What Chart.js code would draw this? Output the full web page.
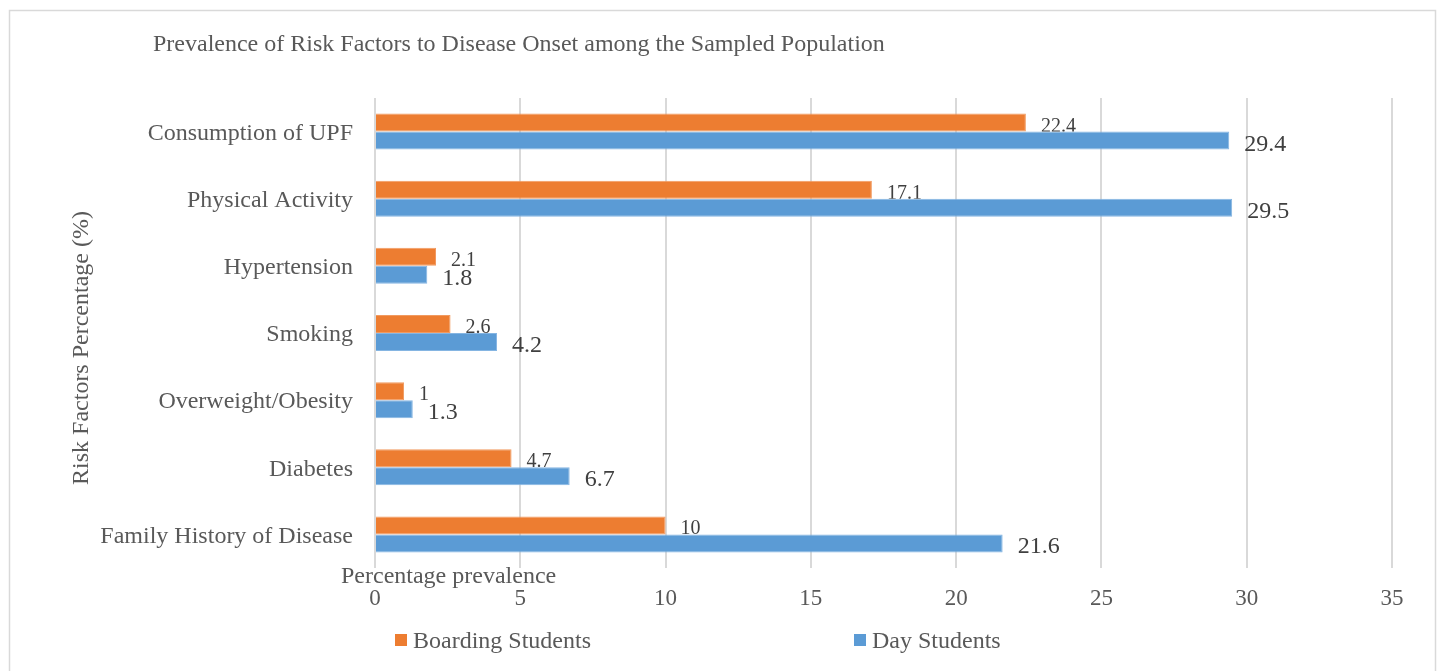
<!DOCTYPE html>
<html>
<head>
<meta charset="utf-8">
<title>Prevalence of Risk Factors</title>
<script src="https://cdn.jsdelivr.net/npm/chart.js@4.4.1/dist/chart.umd.min.js"></script>
<style>
  html, body { margin: 0; padding: 0; background: #fff; }
  #wrap { position: relative; width: 1441px; height: 671px; }
</style>
</head>
<body>
<div id="wrap"><canvas id="chart" width="1441" height="671"></canvas></div>
<script>
// Risk factor survey - boarding vs day students

var categories = ['Consumption of UPF', 'Physical Activity', 'Hypertension', 'Smoking',
  'Overweight/Obesity', 'Diabetes', 'Family History of Disease'];
var boardingValues = [22.4, 17.1, 2.1, 2.6, 1, 4.7, 10];
var dayValues = [29.4, 29.5, 1.8, 4.2, 1.3, 6.7, 21.6];
var seriesNames = ['Boarding Students', 'Day Students'];
var xTicks = [0, 5, 10, 15, 20, 25, 30, 35];

var chartTitle = 'Prevalence of Risk Factors to Disease Onset among the Sampled Population';
var xTitle = 'Percentage prevalence';
var yTitle = 'Risk Factors Percentage (%)';

var SERIF = "'Liberation Serif', 'Times New Roman', serif";
var ORANGE = '#ED7D31';
var BLUE = '#5B9BD5';
var TEXT = '#595959';
var LABEL = '#404040';

// white page + thin grey frame around the whole chart
var framePlugin = {
  id: 'frame',
  beforeDraw: function(chart) {
    var ctx = chart.ctx;
    ctx.save();
    ctx.fillStyle = '#fff';
    ctx.fillRect(0, 0, chart.width, chart.height);
    ctx.strokeStyle = '#d9d9d9';
    ctx.lineWidth = 1.5;
    ctx.strokeRect(9.5, 10.5, 1426, 700);
    ctx.restore();
  }
};

// value labels at the end of each bar, baseline sitting on the bar's bottom edge
var valueLabelPlugin = {
  id: 'valueLabels',
  afterDatasetsDraw: function(chart) {
    var ctx = chart.ctx;
    var sizes = [20, 24];
    var blueBars = chart.getDatasetMeta(1).data;

    ctx.save();
    ctx.fillStyle = LABEL;
    ctx.textAlign = 'left';
    ctx.textBaseline = 'alphabetic';

    chart.data.datasets.forEach(function(ds, di) {
      var meta = chart.getDatasetMeta(di);
      ctx.save();
      if (di === 0) {
        // keep boarding labels from spilling over the day-student bars
        ctx.beginPath();
        ctx.rect(0, 0, chart.width, chart.height);
        blueBars.forEach(function(b) {
          ctx.rect(b.base, b.y - b.height / 2, b.x - b.base, b.height);
        });
        ctx.clip('evenodd');
      }
      ctx.font = sizes[di] + 'px ' + SERIF;
      meta.data.forEach(function(bar, i) {
        ctx.fillText(String(ds.data[i]), bar.x + 15, bar.y + bar.height / 2 + (di === 1 ? 1 : 0));
      });
      ctx.restore();
    });
    ctx.restore();
  }
};

// title, axis titles and legend
var decorPlugin = {
  id: 'decor',
  afterDraw: function(chart) {
    var ctx = chart.ctx;
    ctx.save();
    ctx.fillStyle = TEXT;
    ctx.font = '24px ' + SERIF;
    ctx.textBaseline = 'alphabetic';
    ctx.textAlign = 'left';

    ctx.fillText(chartTitle, 153, 51);
    ctx.fillText(xTitle, 341, 583);

    ctx.save();
    ctx.translate(88, 348);
    ctx.rotate(-Math.PI / 2);
    ctx.textAlign = 'center';
    ctx.fillText(yTitle, 0, 0);
    ctx.restore();

    var legendX = [395, 854];
    chart.data.datasets.forEach(function(ds, i) {
      ctx.fillStyle = ds.backgroundColor;
      ctx.fillRect(legendX[i], 634, 12, 12);
      ctx.fillStyle = TEXT;
      ctx.fillText(ds.label, legendX[i] + 18, 648);
    });
    ctx.restore();
  }
};

var ctx = document.getElementById('chart');

new Chart(ctx, {
  type: 'bar',
  data: {
    labels: categories,
    datasets: [{
      label: seriesNames[0],
      data: boardingValues,
      backgroundColor: ORANGE,
      borderColor: '#F19A60',
      borderWidth: 1,
      categoryPercentage: 0.536,
      barPercentage: 1
    }, {
      label: seriesNames[1],
      data: dayValues,
      backgroundColor: BLUE,
      borderColor: '#85B5E2',
      borderWidth: 1,
      categoryPercentage: 0.536,
      barPercentage: 1
    }]
  },
  options: {
    indexAxis: 'y',
    responsive: false,
    animation: false,
    devicePixelRatio: 1,
    layout: { padding: { left: 0, right: 49, top: 98, bottom: 0 } },
    plugins: {
      legend: { display: false },
      title: { display: false },
      tooltip: { enabled: false }
    },
    scales: {
      x: {
        min: 0,
        max: 35,
        afterBuildTicks: function(s) {
          s.ticks = xTicks.map(function(v) { return { value: v }; });
        },
        afterFit: function(s) { s.height = 103; },
        grid: { color: '#d9d9d9', lineWidth: 2, drawTicks: false },
        border: { display: false },
        ticks: {
          padding: 17,
          color: TEXT,
          font: { family: SERIF, size: 23 }
        }
      },
      y: {
        afterFit: function(s) { s.width = 375; },
        grid: { display: false, drawTicks: false },
        border: { display: false },
        ticks: {
          padding: 22,
          labelOffset: 2,
          color: TEXT,
          font: { family: SERIF, size: 24 }
        }
      }
    }
  },
  plugins: [framePlugin, valueLabelPlugin, decorPlugin]
});
</script>
</body>
</html>
